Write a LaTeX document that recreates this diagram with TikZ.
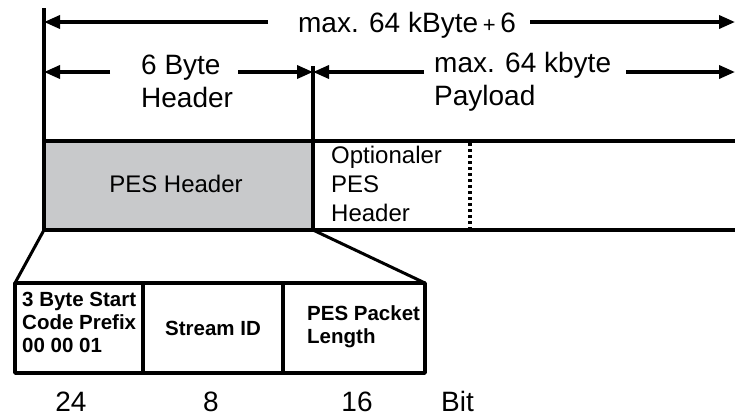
\documentclass[tikz,border=0pt]{standalone}
\usepackage{fontspec}
\setmainfont{Liberation Sans}
\usetikzlibrary{arrows.meta}
\definecolor{hdrgray}{RGB}{200,201,203}
\begin{document}
\begin{tikzpicture}[x=1pt,y=-1pt,
  thickline/.style={line width=3.5pt},
  arr/.style={line width=3.5pt,-{Triangle[length=16pt,width=13pt]}},
  biglbl/.style={inner sep=0pt,font=\fontsize{28}{33}\selectfont,align=left},
  midlbl/.style={inner sep=0pt,font=\fontsize{24}{29}\selectfont,align=left},
  boldlbl/.style={inner sep=0pt,font=\bfseries\fontsize{20.5}{23}\selectfont,align=left},
  numlbl/.style={inner sep=0pt,font=\fontsize{28}{33}\selectfont}]
\useasboundingbox (0,0) rectangle (735,416);
% coordinates
\coordinate (vtop) at (44,8);
\coordinate (boxtl) at (44,141);
\coordinate (boxbl) at (44,230);
\coordinate (divtop) at (313,66);
\coordinate (boxtr) at (313,141);
\coordinate (boxbr) at (313,230);
\coordinate (lineTend) at (735,141);
\coordinate (lineBend) at (735,230);
\coordinate (dotT) at (470,143);
\coordinate (dotB) at (470,228);
% row 1
\coordinate (r1L) at (44,22);
\coordinate (r1a) at (268,22);
\coordinate (r1b) at (530,22);
\coordinate (r1R) at (735,22);
% row 2
\coordinate (r2L) at (44,72);
\coordinate (r2a) at (110,72);
\coordinate (r2b) at (238,72);
\coordinate (r2M) at (313,72);
\coordinate (r2c) at (424,72);
\coordinate (r2d) at (626,72);
\coordinate (r2R) at (735,72);
% header box
\fill[hdrgray] (boxtl) rectangle (boxbr);
\draw[thickline] (vtop) -- (boxbl) -- (boxbr) -- (boxtr) -- (boxtl);
\draw[thickline] (divtop) -- (boxtr);
\draw[thickline] (boxtr) -- (lineTend);
\draw[thickline] (boxbr) -- (lineBend);
\draw[line width=3.5pt,dash pattern=on 3pt off 3pt] (dotT) -- (dotB);
% arrows
\draw[arr] (r1a) -- (r1L);
\draw[arr] (r1b) -- (r1R);
\draw[arr] (r2a) -- (r2L);
\draw[arr] (r2b) -- (r2M);
\draw[arr] (r2c) -- (r2M);
\draw[arr] (r2d) -- (r2R);
% labels
\node[biglbl,anchor=base] (total) at (407,32) {max. 64 kByte\,{\fontsize{22}{26}\selectfont+}\,6};
\node[biglbl,anchor=north west] (hdrlbl) at (141,55) {6 Byte\\Header};
\node[biglbl,anchor=north west] (paylbl) at (434,52) {max. 64 kbyte\\Payload};
\node[midlbl] (pes) at (176,184) {PES Header};
\node[midlbl,anchor=north west] (opt) at (331,146) {Optionaler\\PES\\Header};
% detail boxes
\coordinate (dtl) at (15,283);
\coordinate (dtr) at (425,283);
\coordinate (dbl) at (15,373);
\coordinate (dbr) at (425,373);
\coordinate (d1t) at (143,283);
\coordinate (d1b) at (143,373);
\coordinate (d2t) at (283,283);
\coordinate (d2b) at (283,373);
\draw[line width=3pt] (boxbl) -- (dtl);
\draw[line width=3pt] (boxbr) -- (dtr);
\draw[thickline,line join=round] (dtl) rectangle (dbr);
\draw[thickline] (d1t) -- (d1b);
\draw[thickline] (d2t) -- (d2b);
\node[boldlbl,anchor=north west] (f1) at (22,292) {3 Byte Start\\Code Prefix\\00 00 01};
\node[boldlbl] (f2) at (213,328) {Stream ID};
\node[boldlbl,anchor=north west] (f3) at (307,305) {PES Packet\\Length};
\node[numlbl,anchor=base] (n1) at (71,411) {24};
\node[numlbl,anchor=base] (n2) at (211,411) {8};
\node[numlbl,anchor=base] (n3) at (357,411) {16};
\node[numlbl,anchor=base west] (n4) at (441,411) {Bit};
\end{tikzpicture}
\end{document}
